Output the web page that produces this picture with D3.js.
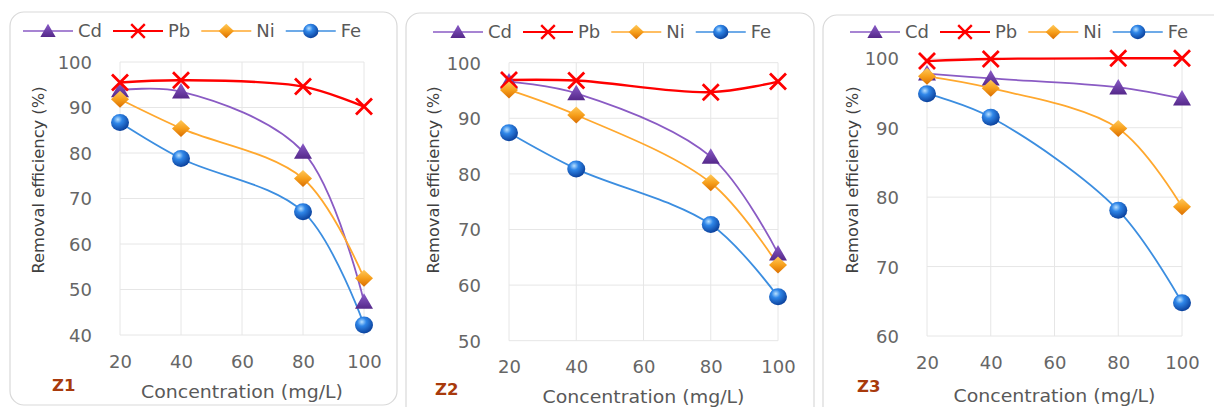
<!DOCTYPE html>
<html>
<head>
<meta charset="utf-8">
<script src="https://cdn.jsdelivr.net/npm/d3@7"></script>
<style>
  body { margin: 0; background: #fff; }
  text { font-family: "DejaVu Sans", sans-serif; }
</style>
</head>
<body>
<div id="chart"></div>
<script>
var metals = ["Cd", "Pb", "Ni", "Fe"];
var conc = [20, 40, 80, 100];
var xTicks = [20, 40, 60, 80, 100];

// Z1
var z1Cd = [93.8, 93.5, 80.3, 47.3];
var z1Pb = [95.5, 96.0, 94.6, 90.2];
var z1Ni = [91.8, 85.4, 74.4, 52.5];
var z1Fe = [86.7, 78.8, 67.1, 42.2];
var z1Ticks = [40, 50, 60, 70, 80, 90, 100];

// Z2
var z2Cd = [96.6, 94.5, 83.1, 65.7];
var z2Pb = [96.9, 96.8, 94.7, 96.6];
var z2Ni = [95.1, 90.6, 78.4, 63.6];
var z2Fe = [87.4, 80.9, 70.9, 57.9];
var z2Ticks = [50, 60, 70, 80, 90, 100];

// Z3
var z3Cd = [97.8, 97.1, 95.8, 94.2];
var z3Pb = [99.6, 99.9, 100, 100];
var z3Ni = [97.4, 95.7, 89.9, 78.6];
var z3Fe = [94.9, 91.5, 78.1, 64.8];
var z3Ticks = [60, 70, 80, 90, 100];

var lineColor = {Cd: "#8a5bc4", Pb: "#ff0000", Ni: "#ffa82e", Fe: "#3c8ee0"};

var panels = [
  {name: "Z1", series: [z1Cd, z1Pb, z1Ni, z1Fe], ticks: z1Ticks,
   l: 120, r: 364, t: 62, b: 335, frame: [10, 12, 387, 393],
   legendX: 23, legendY: 31, ytX: 38, xtY: 398, zX: 52, zY: 391},
  {name: "Z2", series: [z2Cd, z2Pb, z2Ni, z2Fe], ticks: z2Ticks,
   l: 509, r: 778, t: 62.7, b: 340.7, frame: [406, 13, 408, 410],
   legendX: 433, legendY: 32, ytX: 433, xtY: 403, zX: 435, zY: 395},
  {name: "Z3", series: [z3Cd, z3Pb, z3Ni, z3Fe], ticks: z3Ticks,
   l: 927, r: 1182, t: 58.3, b: 336, frame: [823, 15, 410, 410],
   legendX: 850, legendY: 32, ytX: 852, xtY: 402, zX: 857, zY: 392}
];

var svg = d3.select("#chart").append("svg")
  .attr("width", 1214)
  .attr("height", 407);

var defs = svg.append("defs");
var sph = defs.append("radialGradient").attr("id", "sphere")
  .attr("cx", "38%").attr("cy", "32%").attr("r", "70%");
sph.append("stop").attr("offset", "0%").attr("stop-color", "#b8e0ff");
sph.append("stop").attr("offset", "35%").attr("stop-color", "#2f86e8");
sph.append("stop").attr("offset", "100%").attr("stop-color", "#0a3f9a");
var tri = defs.append("linearGradient").attr("id", "tri")
  .attr("x1", 0).attr("y1", 0).attr("x2", 0).attr("y2", 1);
tri.append("stop").attr("offset", "0%").attr("stop-color", "#8a5cc8");
tri.append("stop").attr("offset", "100%").attr("stop-color", "#55288a");
var dia = defs.append("linearGradient").attr("id", "dia")
  .attr("x1", 0).attr("y1", 0).attr("x2", 0).attr("y2", 1);
dia.append("stop").attr("offset", "0%").attr("stop-color", "#ffc95a");
dia.append("stop").attr("offset", "50%").attr("stop-color", "#f7a01c");
dia.append("stop").attr("offset", "100%").attr("stop-color", "#d96d00");

function marker(g, m) {
  if (m == "Cd") {
    g.append("path").attr("d", "M0,-8.5L9,7L-9,7Z").attr("fill", "url(#tri)");
  } else if (m == "Pb") {
    g.append("path").attr("d", "M-8,-8L8,8M-8,8L8,-8")
      .attr("stroke", "#ff0000").attr("stroke-width", 2.8).attr("fill", "none");
  } else if (m == "Ni") {
    g.append("path").attr("d", "M0,-8.5L9,0L0,8.5L-9,0Z").attr("fill", "url(#dia)");
  } else {
    g.append("ellipse").attr("rx", 9).attr("ry", 8.5).attr("fill", "url(#sphere)");
  }
}

panels.forEach(function(p) {
  var g = svg.append("g");

  g.append("rect")
    .attr("x", p.frame[0]).attr("y", p.frame[1])
    .attr("width", p.frame[2]).attr("height", p.frame[3])
    .attr("rx", 14)
    .attr("fill", "#fff").attr("stroke", "#d9d9d9").attr("stroke-width", 1.2);

  var x = d3.scaleLinear().domain([20, 100]).range([p.l, p.r]);
  var y = d3.scaleLinear().domain(d3.extent(p.ticks)).range([p.b, p.t]);

  // grid
  g.append("g").selectAll("line.h").data(p.ticks).enter().append("line")
    .attr("x1", p.l).attr("x2", p.r)
    .attr("y1", d => y(d)).attr("y2", d => y(d))
    .attr("stroke", "#e6e6e6").attr("stroke-width", 1);
  g.append("g").selectAll("line.v").data(xTicks).enter().append("line")
    .attr("x1", d => x(d)).attr("x2", d => x(d))
    .attr("y1", p.t).attr("y2", p.b)
    .attr("stroke", "#e6e6e6").attr("stroke-width", 1);

  // axes
  var ya = g.append("g")
    .attr("transform", "translate(" + (p.l - 10) + ",0)")
    .call(d3.axisLeft(y).tickValues(p.ticks).tickSize(0).tickPadding(18));
  ya.select(".domain").remove();
  ya.selectAll("text").attr("font-size", "18px").attr("fill", "#666")
    .attr("font-family", "DejaVu Sans").attr("dy", "0.36em");

  var xa = g.append("g")
    .attr("transform", "translate(0," + (p.b + 20) + ")")
    .call(d3.axisBottom(x).tickValues(xTicks).tickSize(0).tickPadding(0));
  xa.select(".domain").remove();
  xa.selectAll("text").attr("font-size", "18px").attr("fill", "#666")
    .attr("font-family", "DejaVu Sans").attr("dy", "0.71em");

  g.append("text")
    .attr("transform", "translate(" + p.ytX + ",180) rotate(-90)")
    .attr("text-anchor", "middle").attr("dy", "0.35em")
    .attr("font-size", "16.5px").attr("fill", "#404040")
    .attr("textLength", 187).attr("lengthAdjust", "spacingAndGlyphs")
    .text("Removal efficiency (%)");

  g.append("text")
    .attr("x", (p.l + p.r) / 2).attr("y", p.xtY)
    .attr("text-anchor", "middle")
    .attr("font-size", "17.5px").attr("fill", "#595959")
    .attr("textLength", 202).attr("lengthAdjust", "spacingAndGlyphs")
    .text("Concentration (mg/L)");

  g.append("text")
    .attr("x", p.zX).attr("y", p.zY)
    .attr("font-size", "16.5px").attr("font-weight", "bold").attr("fill", "#a83a0c")
    .text(p.name);

  // lines
  var line = d3.line()
    .x((d, i) => x(conc[i]))
    .y(d => y(d))
    .curve(d3.curveCatmullRom.alpha(0.5));

  metals.forEach(function(m, k) {
    g.append("path")
      .attr("d", line(p.series[k]))
      .attr("fill", "none")
      .attr("stroke", lineColor[m])
      .attr("stroke-width", m == "Pb" ? 2.4 : 1.8);
  });
  metals.forEach(function(m, k) {
    p.series[k].forEach(function(v, i) {
      var mg = g.append("g").attr("transform", "translate(" + x(conc[i]) + "," + y(v) + ")");
      marker(mg, m);
    });
  });

  // legend
  var lx = p.legendX;
  metals.forEach(function(m) {
    var lg = g.append("g").attr("transform", "translate(" + lx + "," + p.legendY + ")");
    lg.append("line").attr("x1", 0).attr("x2", 50)
      .attr("stroke", lineColor[m]).attr("stroke-width", m == "Pb" ? 1.8 : 1.5);
    var mg = lg.append("g").attr("transform", "translate(25,0) scale(0.85)");
    marker(mg, m);
    var t = lg.append("text").attr("x", 55).attr("dy", "0.36em")
      .attr("font-size", "18px").attr("fill", "#595959").text(m);
    lx += 55 + t.node().getComputedTextLength() + 11;
  });
});
</script>
</body>
</html>
